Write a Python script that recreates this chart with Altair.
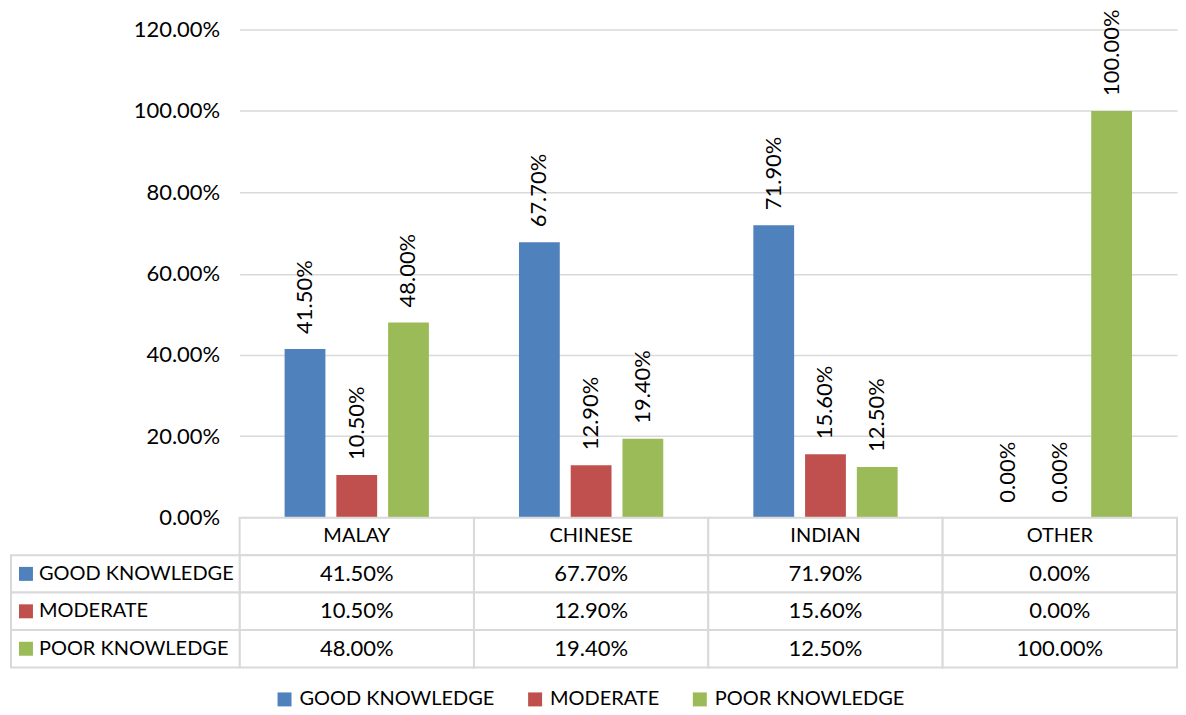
import altair as alt
import pandas as pd

categories = ["MALAY", "CHINESE", "INDIAN", "OTHER"]
series = ["GOOD KNOWLEDGE", "MODERATE", "POOR KNOWLEDGE"]
good = [0.415, 0.677, 0.719, 0.0]
moderate = [0.105, 0.129, 0.156, 0.0]
poor = [0.48, 0.194, 0.125, 1.0]
colors = ["#4F81BD", "#C0504D", "#9BBB59"]
y_ticks = [0, 0.2, 0.4, 0.6, 0.8, 1.0, 1.2]

FONT = "Lato"
FS = 20      # letters
NS = 22      # numbers
GRID = "#D9D9D9"
PLOT_W = 939
PLOT_H = 489
LEFT_COL = 229

rows = []
for s, vals in zip(series, [good, moderate, poor]):
    for c, v in zip(categories, vals):
        rows.append({"category": c, "series": s, "value": v})
df = pd.DataFrame(rows)

table_rows = ["header"] + series
grid_df = pd.DataFrame([{"category": c, "row": r} for r in table_rows for c in categories])
header_df = pd.DataFrame({"category": categories, "row": ["header"] * len(categories)})
label_df = pd.DataFrame({"series": series, "row": series})

color_scale = alt.Scale(domain=series, range=colors)

# ---------------- bar chart ----------------
base = alt.Chart(df).encode(
    x=alt.X("category:N", sort=categories,
            scale=alt.Scale(domain=categories, paddingInner=0.3843, paddingOuter=0.192),
            axis=None),
    xOffset=alt.XOffset("series:N",
                        scale=alt.Scale(domain=series, paddingInner=0.2115, paddingOuter=0)),
    y=alt.Y("value:Q",
            scale=alt.Scale(domain=[0, 1.2], nice=False, zero=True),
            axis=alt.Axis(values=y_ticks, format=".2%", title=None, domain=False,
                          ticks=False, labelFontSize=NS, labelFont=FONT,
                          labelColor="#000", labelPadding=20,
                          gridColor=GRID, gridWidth=1.5)),
)

bars = base.mark_bar().encode(
    color=alt.Color("series:N", scale=color_scale,
                    legend=alt.Legend(title=None, orient="none", direction="horizontal",
                                      legendX=35, legendY=661, columns=3))
)
bar_labels = base.mark_text(angle=270, align="left", baseline="middle", dx=15,
                            font=FONT, fontSize=NS, color="#000").encode(
    text=alt.Text("value:Q", format=".2%")
)
top = alt.layer(bars, bar_labels).properties(width=PLOT_W, height=PLOT_H)

# ---------------- data table ----------------
ty = alt.Y("row:N", scale=alt.Scale(domain=table_rows, paddingInner=0, paddingOuter=0), axis=None)
tx = alt.X("category:N", scale=alt.Scale(domain=categories, paddingInner=0, paddingOuter=0), axis=None)

cells = alt.Chart(grid_df).mark_rect(fill="white", stroke=GRID, strokeWidth=2).encode(x=tx, y=ty)
left_cells = alt.Chart(label_df).mark_rect(fill="white", stroke=GRID, strokeWidth=2).encode(
    x=alt.value(-LEFT_COL), x2=alt.value(0), y=ty)
squares = alt.Chart(label_df).mark_square(size=196, opacity=1).encode(
    x=alt.value(-LEFT_COL + 15), y=ty,
    fill=alt.Fill("series:N", scale=color_scale, legend=None))
left_text = alt.Chart(label_df).mark_text(align="left", baseline="middle", font=FONT,
                                           fontSize=FS, color="#000").encode(
    x=alt.value(-LEFT_COL + 28), y=ty, text="series:N")
header_text = alt.Chart(header_df).mark_text(baseline="middle", font=FONT, fontSize=FS,
                                              color="#000").encode(x=tx, y=ty, text="category:N")
value_text = alt.Chart(df).mark_text(baseline="middle", font=FONT, fontSize=NS,
                                      color="#000").encode(
    x=tx, y=alt.Y("series:N", scale=alt.Scale(domain=table_rows, paddingInner=0, paddingOuter=0), axis=None),
    text=alt.Text("value:Q", format=".2%"))

table = alt.layer(cells, left_cells, squares, left_text, header_text, value_text).properties(
    width=PLOT_W, height=150)

chart = alt.vconcat(top, table, spacing=0, bounds="flush").properties(
    padding={"left": 2, "top": 0, "right": 0, "bottom": 0}
).configure_view(stroke=None).configure_legend(
    symbolType="square", symbolSize=196, symbolStrokeWidth=0, labelFont=FONT,
    labelFontSize=FS, labelColor="#000", labelOffset=5, columnPadding=30,
    labelLimit=0, padding=0
)

chart.save("out.html", embed_options={"renderer": "svg", "actions": False})
